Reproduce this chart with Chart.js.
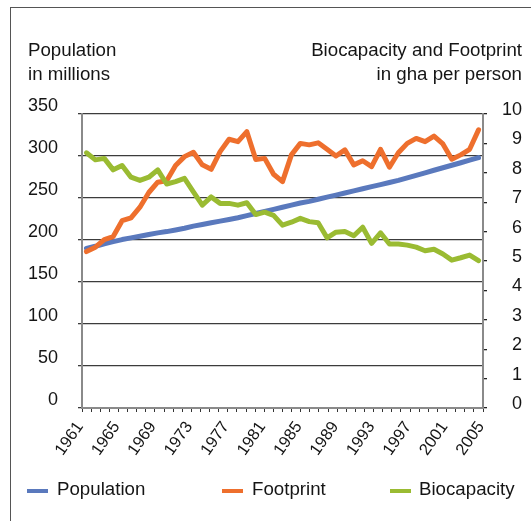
<!DOCTYPE html>
<html>
<head>
<meta charset="utf-8">
<script src="https://cdn.jsdelivr.net/npm/chart.js@4/dist/chart.umd.min.js"></script>
<style>
  html, body { margin: 0; padding: 0; background: #fff; }
  body { width: 531px; height: 521px; position: relative; overflow: hidden;
         font-family: 'Liberation Sans', Arial, sans-serif; color: #151515; }
  #frame { position: absolute; left: 10px; top: 7px; width: 540px; height: 540px;
           border-left: 1px solid #555; border-top: 1px solid #555; }
  canvas { position: absolute; left: 0; top: 0; }
  .ttl { position: absolute; font-size: 18.7px; line-height: 24px; white-space: nowrap; }
  .leg { position: absolute; top: 477px; font-size: 18.7px; line-height: 24px; white-space: nowrap; }
  .sw { position: absolute; top: 489px; width: 21px; height: 4px; }
</style>
</head>
<body>
<div id="frame"></div>
<canvas id="c" width="531" height="521"></canvas>
<div class="ttl" style="left:28px; top:38px;">Population<br>in millions</div>
<div class="ttl" style="right:9px; top:38px; text-align:right;">Biocapacity and Footprint<br>in gha per person</div>
<div id="legend"></div>
<script>
const years = [1961,1962,1963,1964,1965,1966,1967,1968,1969,1970,1971,1972,1973,1974,1975,1976,1977,1978,1979,1980,
  1981,1982,1983,1984,1985,1986,1987,1988,1989,1990,1991,1992,1993,1994,1995,1996,1997,1998,1999,2000,2001,2002,2003,2004,2005];
const population = [190,192.5,195.5,198,200.5,202.5,204.5,206.5,208.5,210,212,214,216.5,218.5,220.5,222.5,224.5,226.5,229,231.5,
  234,236.5,239,241.5,244,246,248.5,251,253.5,256,258.5,261,263.5,266,268.5,271,274,277,280,283,286,289,292,295,298];
const footprint = [5.32,5.47,5.73,5.83,6.37,6.47,6.83,7.33,7.68,7.73,8.25,8.55,8.70,8.27,8.12,8.72,9.14,9.06,9.40,8.45,
  8.49,7.95,7.70,8.61,9.00,8.95,9.02,8.80,8.57,8.78,8.27,8.41,8.21,8.80,8.19,8.68,9.00,9.17,9.06,9.25,8.98,8.46,8.61,8.80,9.46];
const biocapacity = [8.68,8.44,8.49,8.10,8.25,7.85,7.74,7.85,8.10,7.62,7.70,7.81,7.35,6.90,7.18,6.96,6.96,6.90,6.98,6.58,
  6.66,6.55,6.22,6.32,6.45,6.34,6.30,5.79,5.98,6.00,5.86,6.15,5.60,5.96,5.58,5.58,5.54,5.47,5.35,5.40,5.24,5.03,5.11,5.20,5.01];
const popTicks = [0,50,100,150,200,250,300,350];
const ghaTicks = [0,1,2,3,4,5,6,7,8,9,10];
const seriesNames = ['Population','Footprint','Biocapacity'];
const seriesColors = ['#5a79bd','#ee6f2d','#9abb32'];

const FONT = "'Liberation Sans', Arial, sans-serif";

// HTML legend built from series names/colours
const legendPos = [[27,57],[222,252],[390,419]];
const lg = document.getElementById('legend');
seriesNames.forEach((n,i) => {
  const s = document.createElement('div'); s.className='sw';
  s.style.left = legendPos[i][0]+'px'; s.style.background = seriesColors[i]; lg.appendChild(s);
  const t = document.createElement('div'); t.className='leg';
  t.style.left = legendPos[i][1]+'px'; t.textContent = n; lg.appendChild(t);
});

const lineDs = (label, data, color, axis, order) => ({
  label, data, borderColor: color, backgroundColor: color, yAxisID: axis, xAxisID: 'x',
  borderWidth: 5, pointRadius: 0, tension: 0, borderCapStyle: 'round', borderJoinStyle: 'round', order
});

new Chart(document.getElementById('c'), {
  type: 'line',
  data: {
    labels: years,
    datasets: [
      lineDs(seriesNames[0], population, seriesColors[0], 'y', 3),
      lineDs(seriesNames[1], footprint, seriesColors[1], 'y1', 2),
      lineDs(seriesNames[2], biocapacity, seriesColors[2], 'y1', 1)
    ]
  },
  options: {
    responsive: false,
    animation: false,
    layout: { padding: { top: 114, left: 0, right: 9, bottom: 0 } },
    plugins: { legend: { display: false }, tooltip: { enabled: false } },
    scales: {
      x: { type: 'category', offset: true, display: false },
      x2: {
        type: 'category', labels: years, offset: false, position: 'bottom',
        grid: { drawOnChartArea: false, drawTicks: true, tickLength: 4, color: '#333', lineWidth: 1 },
        border: { display: true, color: '#8a8a8a', width: 2 },
        ticks: {
          autoSkip: false, maxRotation: 55, minRotation: 55, padding: 6, labelOffset: -2,
          color: '#151515', font: { family: FONT, size: 16.5 },
          callback: (v, i) => (i % 4 === 0 ? String(years[i]) : '')
        },
        afterFit: s => { s.height = 113; }
      },
      y: {
        position: 'left', min: 0, max: 350,
        afterBuildTicks: s => { s.ticks = popTicks.map(v => ({ value: v })); },
        grid: { color: '#3c3c3c', lineWidth: 1.3, tickLength: 4, drawTicks: true },
        border: { display: true, color: '#8a8a8a', width: 2 },
        ticks: { color: '#151515', font: { family: FONT, size: 18 }, padding: 20, labelOffset: -8 },
        afterFit: s => { s.width = 82; }
      },
      y1: {
        position: 'right', min: 0, max: 10,
        afterBuildTicks: s => { s.ticks = ghaTicks.map(v => ({ value: v })); },
        grid: { drawOnChartArea: false, tickLength: 4, drawTicks: true, color: '#222', lineWidth: 1.3 },
        border: { display: true, color: '#8a8a8a', width: 2 },
        ticks: { color: '#151515', font: { family: FONT, size: 18 }, padding: 7, labelOffset: -4, crossAlign: 'far' },
        afterFit: s => { s.width = 39; }
      }
    }
  }
});
</script>
</body>
</html>
